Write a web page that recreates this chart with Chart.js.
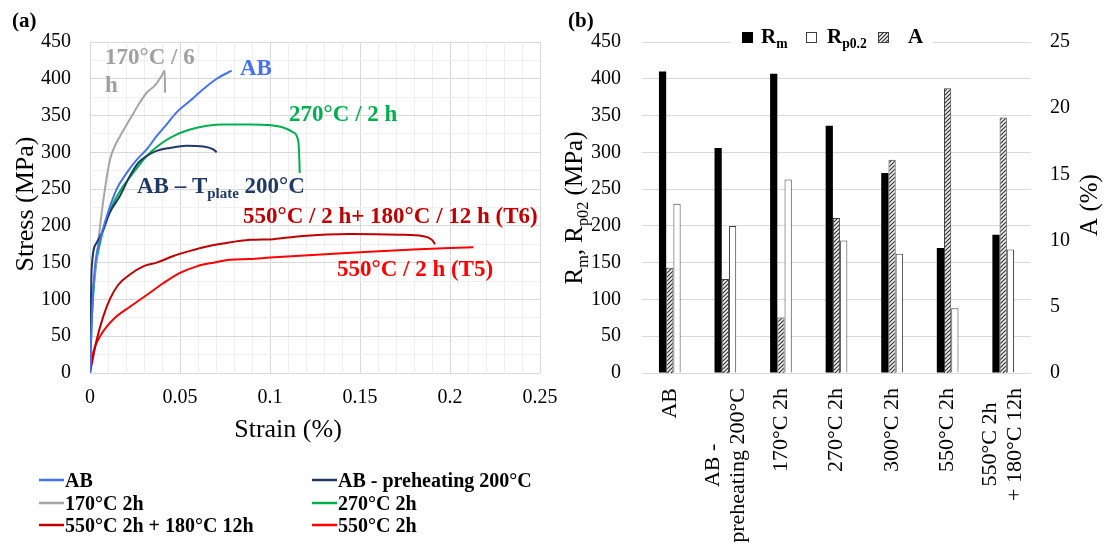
<!DOCTYPE html>
<html><head><meta charset="utf-8">
<script src="https://cdn.jsdelivr.net/npm/chart.js@4.4.0/dist/chart.umd.min.js"></script>
<style>
html,body{margin:0;padding:0;background:#fff;}
#wrap{position:relative;width:1108px;height:551px;overflow:hidden;background:#fff;}
canvas{position:absolute;top:0;}
</style>
</head><body>
<div id="wrap">
<canvas id="ca" width="560" height="551" style="left:0;width:560px;height:551px"></canvas>
<canvas id="cb" width="548" height="551" style="left:560px;width:548px;height:551px"></canvas>
</div>
<script>
// ---------- Panel (a) data: stress-strain curves ----------
const seriesLabels = ['AB', 'AB - preheating 200°C', '170°C 2h', '270°C 2h', '550°C 2h + 180°C 12h', '550°C 2h'];
const seriesColors = ['#4472F0', '#1F3864', '#A5A5A5', '#00B050', '#C00000', '#FF0000'];

const abStrain  = [0, 0.0008, 0.0015, 0.003, 0.0056, 0.0093, 0.0148, 0.0204, 0.026, 0.0315, 0.037, 0.0426, 0.048, 0.0556, 0.063, 0.0704, 0.0787];
const abStress  = [0, 60, 100, 150, 181, 213, 250, 272, 290, 304, 322, 338, 354, 370, 386, 400, 411];

const prehStrain = [0, 0.0005, 0.0009, 0.0037, 0.0074, 0.011, 0.0167, 0.0222, 0.0269, 0.0315, 0.037, 0.0444, 0.0537, 0.063, 0.0685, 0.0704];
const prehStress = [0, 90, 141, 177, 195, 218, 241, 268, 286, 295, 302, 306, 309, 308, 304, 300];

const t170Strain = [0, 0.001, 0.0028, 0.0056, 0.0083, 0.0111, 0.0139, 0.0167, 0.0222, 0.0278, 0.0315, 0.0361, 0.0398, 0.0415, 0.0417];
const t170Stress = [0, 90, 136, 200, 250, 290, 309, 322, 345, 368, 381, 391, 404, 411, 381];

const t270Strain = [0, 0.0009, 0.003, 0.0056, 0.0093, 0.013, 0.0185, 0.024, 0.0315, 0.039, 0.0463, 0.0556, 0.065, 0.074, 0.0889, 0.1, 0.107, 0.113, 0.1157, 0.1163, 0.1165];
const t270Stress = [0, 68, 140, 177, 209, 231, 254, 272, 295, 311, 322, 331, 336, 338, 338, 337, 334, 327, 315, 290, 272];

const t6Strain = [0, 0.0037, 0.0074, 0.011, 0.0157, 0.0222, 0.0296, 0.037, 0.0463, 0.0556, 0.065, 0.074, 0.0889, 0.102, 0.1167, 0.144, 0.172, 0.185, 0.19, 0.1917];
const t6Stress = [0, 45, 77, 100, 120, 134, 145, 150, 159, 166, 172, 176, 181, 182, 186, 189, 188, 186, 181, 175];

const t5Strain = [0, 0.0009, 0.0028, 0.0056, 0.0093, 0.0148, 0.0222, 0.0315, 0.0407, 0.05, 0.0593, 0.0685, 0.0778, 0.0889, 0.1, 0.1426, 0.1796, 0.2, 0.213];
const t5Stress = [0, 18, 36, 50, 63, 77, 90, 106, 122, 136, 145, 150, 154, 155, 157, 163, 168, 170, 171];

const xTickLabelsA = ['0', '0.05', '0.1', '0.15', '0.2', '0.25'];
const yTickLabelsA = ['0', '50', '100', '150', '200', '250', '300', '350', '400', '450'];

// ---------- Panel (b) data: bar chart ----------
const categories = ['AB', ['AB -', 'preheating 200°C'], '170°C 2h', '270°C 2h', '300°C 2h', '550°C 2h', ['550°C 2h', '+ 180°C 12h']];
const rmValues = [410, 306, 407, 336, 272, 170, 188];
const rpValues = [230, 200, 263, 180, 162, 88, 168];
const aValues  = [7.95, 7.1, 4.2, 11.7, 16.1, 21.5, 19.3];
const yTickLabelsB = ['0', '50', '100', '150', '200', '250', '300', '350', '400', '450'];
const y2TickLabelsB = ['0', '5', '10', '15', '20', '25'];

// ---------- helpers ----------
const SERIF = "'Liberation Serif','Times New Roman',serif";
function fontStr(w, s) { return w + ' ' + s + 'px ' + SERIF; }
function richWidth(ctx, parts, size, weight) {
  let w = 0;
  for (const p of parts) { ctx.font = fontStr(weight, p[1] ? size * 0.65 : size); w += ctx.measureText(p[0]).width; }
  return w;
}
function drawRich(ctx, parts, x, cy, size, weight, color, align) {
  const w = richWidth(ctx, parts, size, weight);
  let cx = align === 'center' ? x - w / 2 : x;
  const base = cy + size * 0.33;
  ctx.fillStyle = color; ctx.textAlign = 'left'; ctx.textBaseline = 'alphabetic';
  for (const p of parts) {
    ctx.font = fontStr(weight, p[1] ? size * 0.65 : size);
    ctx.fillText(p[0], cx, p[1] ? base + size * 0.22 : base);
    cx += ctx.measureText(p[0]).width;
  }
}
function drawRichRot(ctx, parts, cx, cy, size, weight, color) {
  ctx.save(); ctx.translate(cx, cy); ctx.rotate(-Math.PI / 2);
  drawRich(ctx, parts, 0, 0, size, weight, color, 'center');
  ctx.restore();
}
function zip(xs, ys) { return xs.map((x, i) => ({x: x, y: ys[i]})); }

// ---------- Chart A ----------
const annotationsA = [
  {parts: [['170°C / 6']], x: 0.0083, y: 431, color: '#A0A0A0'},
  {parts: [['h']], x: 0.0083, y: 393, color: '#A0A0A0'},
  {parts: [['AB']], x: 0.0833, y: 415, color: '#4472F0'},
  {parts: [['270°C / 2 h']], x: 0.1106, y: 353, color: '#00B050'},
  {parts: [['AB – T'], ['plate', 1], [' 200°C']], x: 0.0261, y: 255, color: '#1F3864'},
  {parts: [['550°C / 2 h+ 180°C / 12 h (T6)']], x: 0.085, y: 214, color: '#C00000'},
  {parts: [['550°C / 2 h (T5)']], x: 0.1372, y: 142, color: '#FF0000'}
];

const decorA = {
  id: 'decorA',
  afterDatasetsDraw(chart) {
    const ctx = chart.ctx, xs = chart.scales.x, ys = chart.scales.y;
    ctx.save();
    for (const a of annotationsA) {
      drawRich(ctx, a.parts, xs.getPixelForValue(a.x), ys.getPixelForValue(a.y), 23, 'bold', a.color, 'left');
    }
    ctx.restore();
  },
  afterDraw(chart) {
    const ctx = chart.ctx;
    ctx.save();
    drawRich(ctx, [['(a)']], 12, 20, 21, 'bold', '#000', 'left');
    drawRichRot(ctx, [['Stress (MPa)']], 24, 204, 26, 'normal', '#000');
    drawRich(ctx, [['Strain (%)']], 288, 428, 26, 'normal', '#000', 'center');
    const colX = [39, 312], rowY = [480, 503, 525];
    chart.data.datasets.forEach((ds, i) => {
      const cx = colX[i % 2], cy = rowY[Math.floor(i / 2)];
      ctx.strokeStyle = ds.borderColor; ctx.lineWidth = 2.5;
      ctx.beginPath(); ctx.moveTo(cx, cy); ctx.lineTo(cx + 25, cy); ctx.stroke();
      drawRich(ctx, [[ds.label]], cx + 26, cy, 20, 'bold', '#000', 'left');
    });
    ctx.restore();
  }
};

const dataA = [
  zip(abStrain, abStress), zip(prehStrain, prehStress), zip(t170Strain, t170Stress),
  zip(t270Strain, t270Stress), zip(t6Strain, t6Stress), zip(t5Strain, t5Stress)
];

new Chart(document.getElementById('ca'), {
  type: 'scatter',
  data: {
    datasets: dataA.map((d, i) => ({
      label: seriesLabels[i], data: d, showLine: true, borderColor: seriesColors[i],
      backgroundColor: seriesColors[i], borderWidth: 2, pointRadius: 0,
      tension: 0.3, cubicInterpolationMode: 'monotone'
    }))
  },
  options: {
    responsive: false, animation: false, events: [],
    layout: {padding: {left: 0, top: 42, right: 20, bottom: 106}},
    plugins: {legend: {display: false}, tooltip: {enabled: false}},
    scales: {
      x: {
        type: 'linear', min: 0, max: 0.25,
        afterFit: s => { s.height = 72; s.paddingLeft = 0; s.paddingRight = 0; },
        border: {display: false},
        grid: {drawTicks: false, color: c => (Math.round(c.tick.value * 100) % 5 === 0 ? '#D9D9D9' : '#F0F0F0')},
        ticks: {
          stepSize: 0.01, autoSkip: false, maxRotation: 0, padding: 13,
          font: {family: SERIF, size: 20}, color: '#000',
          callback: v => { const k = Math.round(v * 100); return k % 5 === 0 ? xTickLabelsA[k / 5] : ''; }
        }
      },
      y: {
        min: 0, max: 450,
        afterFit: s => { s.width = 90; s.paddingTop = 0; s.paddingBottom = 0; },
        border: {display: false},
        grid: {drawTicks: false, color: c => (Math.round(c.tick.value) % 50 === 0 ? '#D9D9D9' : '#F0F0F0')},
        ticks: {
          stepSize: 25, autoSkip: false, padding: 19,
          font: {family: SERIF, size: 20}, color: '#000',
          callback: v => { const k = Math.round(v); return k % 50 === 0 ? yTickLabelsA[k / 50] : ''; }
        }
      }
    }
  },
  plugins: [decorA]
});

// ---------- Chart B ----------
const cb = document.getElementById('cb');
const ctxB = cb.getContext('2d');
function makeHatch() {
  const c = document.createElement('canvas'); c.width = 4; c.height = 4;
  const g = c.getContext('2d');
  g.fillStyle = '#f4f4f4'; g.fillRect(0, 0, 4, 4);
  g.strokeStyle = '#2e2e2e'; g.lineWidth = 1.2;
  g.beginPath();
  g.moveTo(0, 4); g.lineTo(4, 0);
  g.moveTo(-1, 1); g.lineTo(1, -1);
  g.moveTo(3, 5); g.lineTo(5, 3);
  g.stroke();
  return ctxB.createPattern(c, 'repeat');
}
const hatch = makeHatch();

const decorB = {
  id: 'decorB',
  afterDraw(chart) {
    const ctx = chart.ctx, xs = chart.scales.x, area = chart.chartArea;
    ctx.save();
    ctx.fillStyle = '#000';
    chart.data.labels.forEach((lab, i) => {
      const lines = Array.isArray(lab) ? lab : [lab];
      const px = xs.getPixelForValue(i);
      ctx.font = fontStr('normal', 22);
      const W = Math.max.apply(null, lines.map(l => ctx.measureText(l).width));
      const top = area.bottom + 15, lh = 25;
      lines.forEach((l, j) => {
        const cx = px + (j - (lines.length - 1) / 2) * lh;
        ctx.save(); ctx.translate(cx, top + W / 2); ctx.rotate(-Math.PI / 2);
        ctx.textAlign = 'center'; ctx.textBaseline = 'middle';
        ctx.fillStyle = '#000';
        ctx.fillText(l, 0, 0); ctx.restore();
      });
    });
    drawRich(ctx, [['(b)']], 8, 20, 21, 'bold', '#000', 'left');
    drawRichRot(ctx, [['R'], ['m', 1], [', R'], ['p02', 1], [' (MPa)']], 14, 208, 25, 'normal', '#000');
    drawRichRot(ctx, [['A (%)']], 529, 205, 25, 'normal', '#000');
    // legend
    ctx.fillStyle = '#fff'; ctx.fillRect(170, 22, 203, 30);
    const ly = 37;
    ctx.fillStyle = '#000'; ctx.fillRect(182, 32, 11, 11);
    drawRich(ctx, [['R'], ['m', 1]], 201, ly - 1, 21, 'bold', '#000', 'left');
    ctx.fillStyle = '#fff'; ctx.fillRect(246.5, 32.5, 10, 10);
    ctx.strokeStyle = '#404040'; ctx.lineWidth = 1; ctx.strokeRect(246.5, 32.5, 10, 10);
    drawRich(ctx, [['R'], ['p0.2', 1]], 267, ly - 1, 21, 'bold', '#000', 'left');
    ctx.fillStyle = hatch; ctx.fillRect(318.5, 32.5, 10, 10);
    ctx.strokeStyle = '#404040'; ctx.strokeRect(318.5, 32.5, 10, 10);
    drawRich(ctx, [['A']], 348, ly - 1, 21, 'bold', '#000', 'left');
    ctx.restore();
  }
};

new Chart(cb, {
  type: 'bar',
  data: {
    labels: categories,
    datasets: [
      {label: 'Rm', data: rmValues, yAxisID: 'y', backgroundColor: '#000000', borderWidth: 0},
      {label: 'A', data: aValues, yAxisID: 'y2', backgroundColor: hatch, borderColor: '#404040', borderWidth: 1},
      {label: 'Rp0.2', data: rpValues, yAxisID: 'y', backgroundColor: '#ffffff', borderColor: '#404040', borderWidth: 1}
    ]
  },
  options: {
    responsive: false, animation: false, events: [],
    layout: {padding: {left: 0, top: 42, right: 0, bottom: 0}},
    datasets: {bar: {categoryPercentage: 0.39, barPercentage: 1}},
    plugins: {legend: {display: false}, tooltip: {enabled: false}},
    scales: {
      x: {
        afterFit: s => { s.height = 178; s.paddingLeft = 0; s.paddingRight = 0; },
        grid: {display: false}, border: {display: false},
        ticks: {display: false}
      },
      y: {
        position: 'left', min: 0, max: 450,
        afterFit: s => { s.width = 82; s.paddingTop = 0; s.paddingBottom = 0; },
        border: {display: false},
        grid: {drawTicks: false, color: '#D9D9D9'},
        ticks: {stepSize: 50, padding: 21, font: {family: SERIF, size: 20}, color: '#000',
          callback: (v, i) => yTickLabelsB[i]}
      },
      y2: {
        position: 'right', min: 0, max: 25,
        afterFit: s => { s.width = 77; s.paddingTop = 0; s.paddingBottom = 0; },
        border: {display: false},
        grid: {display: false, drawTicks: false, drawOnChartArea: false},
        ticks: {stepSize: 5, padding: 19, font: {family: SERIF, size: 20}, color: '#000',
          callback: (v, i) => y2TickLabelsB[i]}
      }
    }
  },
  plugins: [decorB]
});
</script>
</body></html>
